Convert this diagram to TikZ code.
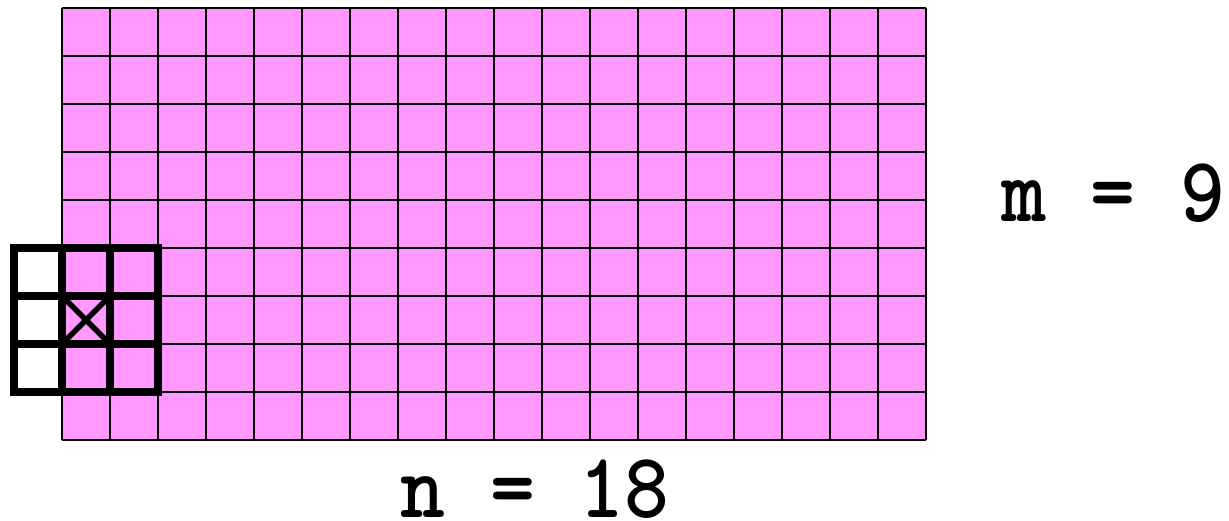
\documentclass[tikz,border=0pt]{standalone}
\definecolor{cellpink}{RGB}{255,153,255}
\begin{document}
\begin{tikzpicture}[scale=1.0,
  grid line/.style={line width=1.2pt},
  kernel line/.style={line width=4.2pt, line cap=rect},
  dim label/.style={font=\ttfamily\bfseries\fontsize{55}{60}\selectfont, xscale=0.92, transform shape, inner sep=0pt}]
\useasboundingbox (-1.2917,-1.6667) rectangle (24.3125,9.1667);
% the n x m board
\fill[cellpink] (0,0) rectangle (18,9);
\draw[grid line] (0,0) grid (18,9);
% 3x3 window hanging over the left edge
\draw[line width=3.2pt] (0,2) -- (1,3) (0,3) -- (1,2);
\draw[kernel line] (-1,1) grid (2,4);
\node[dim label] (mlabel) at (21.9,5.146) {m = 9};
\node[dim label] (nlabel) at (9.854,-1.02) {n = 18};
\end{tikzpicture}
\end{document}
